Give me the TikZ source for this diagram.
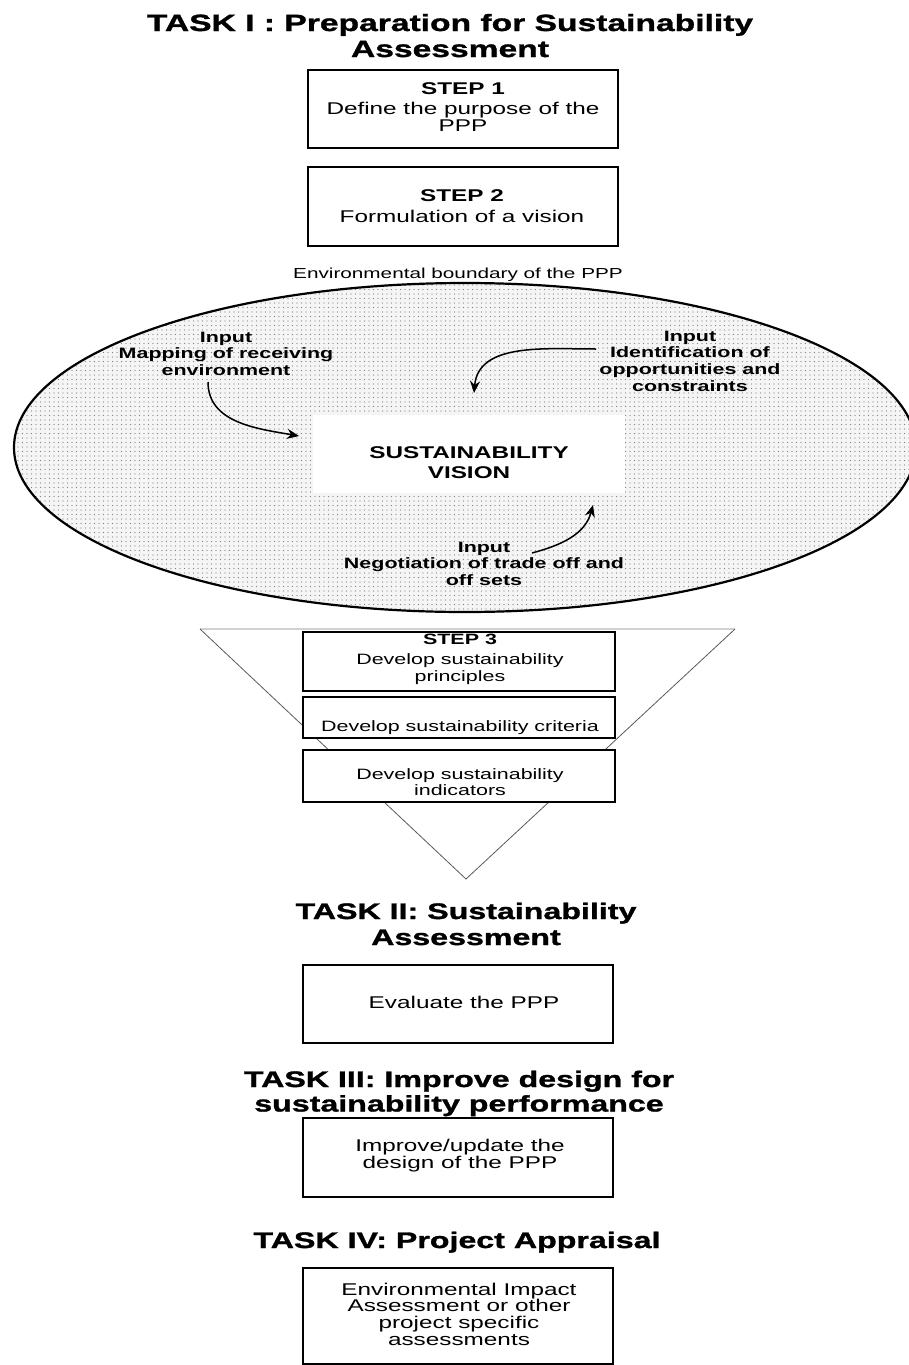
\documentclass[tikz,border=0pt]{standalone}
\usepackage{fontspec}
\setmainfont{Liberation Sans}[FakeStretch=1.43]
\newfontfamily\heavyfont{Liberation Sans Bold}[FakeStretch=1.43, FakeBold=1.3]
\usetikzlibrary{arrows.meta,patterns.meta}

% one base-anchored node per line: [style]{name}{x}{first baseline}{line skip}{lines}
\newcommand\tlines[6][]{%
  \foreach \ln [count=\k] in {#6}{%
    \node[anchor=base,inner sep=0pt,#1] (#2-\k) at (#3,{#4+(\k-1)*#5}) {\ln};}}

\begin{document}
\begin{tikzpicture}[x=1pt,y=-1pt,
  box/.style={draw=black, line width=1.4pt, fill=white, inner sep=0pt},
  bigtitle/.style={font=\fontsize{23.5}{23.5}\selectfont\heavyfont},
  title/.style={font=\fontsize{22.5}{22.5}\selectfont\heavyfont},
  body/.style={font=\fontsize{17}{17}\selectfont},
  bodybf/.style={font=\fontsize{17}{17}\selectfont\bfseries},
  small/.style={font=\fontsize{15}{15}\selectfont},
  smallbf/.style={font=\fontsize{15}{15}\selectfont\bfseries},
  note/.style={font=\fontsize{14.5}{14.5}\selectfont},
  flow/.style={-{Stealth[length=12pt,width=10pt]}, line width=1.5pt},
  funnelside/.style={draw=black!65, line width=0.8pt},
]
\useasboundingbox (0,0) rectangle (908,1365);

% ---------- Task I ----------
\tlines[bigtitle]{taskI}{450}{31}{26}{TASK I : Preparation for Sustainability,Assessment}

\node[box, minimum width=310pt, minimum height=78pt] (step1) at (463,109) {};
\tlines[bodybf]{step1h}{463}{94}{0}{STEP 1}
\tlines[body]{step1t}{463}{114}{17}{Define the purpose of the,PPP}

\node[box, minimum width=310pt, minimum height=79pt] (step2) at (463,206.5) {};
\tlines[bodybf]{step2h}{462}{201}{0}{STEP 2}
\tlines[body]{step2t}{462}{222}{0}{Formulation of a vision}

\tlines[note]{boundary}{458}{278}{0}{Environmental boundary of the PPP}

% environmental boundary: dotted ellipse
\path[preaction={fill=black!4},
      pattern={Dots[distance=4.5pt, radius=0.65pt]}, pattern color=black!50]
  (465,447.5) ellipse [x radius=451, y radius=164.5];
\draw[line width=2.2pt] (465,447.5) ellipse [x radius=451, y radius=164.5];

\node[fill=white, inner sep=0pt, minimum width=312pt, minimum height=78pt] (vision) at (469,454) {};
\tlines[bodybf]{visiont}{469}{458}{20}{SUSTAINABILITY,VISION}

\tlines[smallbf]{inmap}{226}{342}{16.5}{Input,Mapping of receiving,environment}
\tlines[smallbf]{inopp}{690}{341}{16.7}{Input,Identification of,opportunities and,constraints}
\tlines[smallbf]{inneg}{484}{552}{16.7}{Input,Negotiation of trade off and,off sets}

\coordinate (a1s) at (208,382);
\coordinate (a1e) at (299,436);
\coordinate (a2s) at (596,349);
\coordinate (a2e) at (474,393);
\coordinate (a3s) at (532,553);
\coordinate (a3e) at (593,505);
\draw[flow] (a1s) to[out=-90, in=170] (a1e);
\draw[flow] (a2s) to[out=180, in=85] (a2e);
\draw[flow] (a3s) to[out=15, in=-105] (a3e);

% ---------- funnel with Step 3 ----------
\coordinate (fl) at (200,629);
\coordinate (fr) at (735,629);
\coordinate (fa) at (466,879);
\draw[draw=black!18, line width=2.5pt] (fl) -- (fr);
\draw[funnelside] (fl) -- (fa) -- (fr);

\node[box, minimum width=312pt, minimum height=59pt] (step3a) at (459,661.5) {};
\node[box, minimum width=312pt, minimum height=41pt] (step3b) at (459,717.5) {};
\node[box, minimum width=312pt, minimum height=52pt] (step3c) at (459,776) {};
\tlines[smallbf]{step3h}{460}{644}{0}{STEP 3}
\tlines[small]{step3at}{460}{664}{17}{Develop sustainability,principles}
\tlines[small]{step3bt}{460}{731}{0}{Develop sustainability criteria}
\tlines[small]{step3ct}{460}{779}{16.5}{Develop sustainability,indicators}

% ---------- Task II ----------
\tlines[title]{taskII}{466}{919}{26}{TASK II: Sustainability,Assessment}
\node[box, minimum width=310pt, minimum height=78pt] (evalbox) at (458,1004) {};
\tlines[body]{evalt}{464}{1008}{0}{Evaluate the PPP}

% ---------- Task III ----------
\tlines[title]{taskIII}{459}{1087}{24.5}{TASK III: Improve design for,sustainability performance}
\node[box, minimum width=310pt, minimum height=79pt] (impbox) at (458,1157.5) {};
\tlines[body]{impt}{460}{1151}{17.5}{Improve/update the,design of the PPP}

% ---------- Task IV ----------
\tlines[title]{taskIV}{457}{1248}{0}{TASK IV: Project Appraisal}
\node[box, minimum width=310pt, minimum height=96pt] (eiabox) at (458,1316) {};
\tlines[body]{eiat}{459}{1295}{16.8}{Environmental Impact,Assessment or other,project specific,assessments}
\end{tikzpicture}
\end{document}
